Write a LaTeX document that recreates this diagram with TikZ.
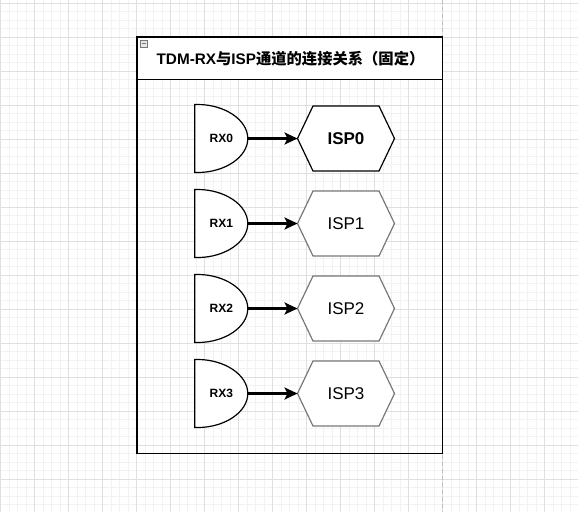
\documentclass[tikz,border=0pt]{standalone}
\usepackage{fontspec}
\setmainfont{Liberation Sans}
\newfontfamily\cjk{Noto Sans CJK SC}
\usetikzlibrary{arrows.meta,backgrounds}

\definecolor{gridminor}{RGB}{242,242,242}
\definecolor{gridmajor}{RGB}{223,223,223}
\definecolor{pageline}{RGB}{190,190,190}
\definecolor{ispgray}{RGB}{120,120,120}
\definecolor{foldfill}{RGB}{226,232,240}

\tikzset{
  rxgate/.style={minimum width=52pt, minimum height=67pt, inner sep=0pt,
    font=\bfseries\fontsize{12}{14}\selectfont},
  ispblock/.style={minimum width=96pt, minimum height=64pt, inner sep=0pt,
    font=\fontsize{17}{20}\selectfont},
  outline/.style={line width=1.2pt, fill=white},
  link/.style={line width=3.2pt, -{Stealth[length=13pt, width=12pt, inset=3pt]}},
}

\begin{document}
\begin{tikzpicture}[x=1pt, y=-1pt, line width=1pt]
  \useasboundingbox (0,0) rectangle (578,512);

  \begin{scope}[on background layer]
    % Grid
    \foreach \x in {0.3,8.8,...,578} \draw[gridminor] (\x,0) -- (\x,512);
    \foreach \y in {2.7,11.2,...,512} \draw[gridminor] (0,\y) -- (578,\y);
    \foreach \x in {0.3,34.3,...,578} \draw[gridmajor] (\x,0) -- (\x,512);
    \foreach \y in {2.7,36.7,...,512} \draw[gridmajor] (0,\y) -- (578,\y);
    \draw[pageline, dash pattern=on 4pt off 3pt] (442.5,0) -- (442.5,512);

    % Container
    \draw[line width=1.3pt, fill=white] (137,37) rectangle (442.5,79.3);
    \draw[line width=1.3pt] (137,79.3) rectangle (442.5,453.3);
    \draw[ispgray, fill=foldfill] (140,40) rectangle (147,47);
    \draw[ispgray] (141.5,43.5) -- (145.5,43.5);
  \end{scope}

  % Title
  \node[font=\bfseries\fontsize{15.3}{18}\selectfont] (title) at (290.5,58.5)
    {TDM-RX{\cjk 与}ISP{\cjk 通道的连接关系（固定）}};

  % Channels
  \foreach \i/\edge in {0/black,1/ispgray,2/ispgray,3/ispgray} {
    \node[rxgate] (rx\i) at (221.3,138.5+85*\i) {RX\i};
    \node[ispblock] (isp\i) at (346,138.5+85*\i) {\ifnum\i=0 \bfseries\fi ISP\i};
    \begin{scope}[on background layer]
      \draw[outline] (rx\i.north west) -- ++(3,0)
        .. controls +(27,0) and +(0,-18.5) .. (rx\i.east)
        .. controls +(0,18.5) and +(27,0) .. ([xshift=3pt]rx\i.south west)
        -- (rx\i.south west) -- cycle;
      \draw[outline, draw=\edge] (isp\i.west) -- ([xshift=15.5pt]isp\i.north west)
        -- ([xshift=-15.5pt]isp\i.north east) -- (isp\i.east)
        -- ([xshift=-15.5pt]isp\i.south east) -- ([xshift=15.5pt]isp\i.south west) -- cycle;
    \end{scope}
    \draw[link] (rx\i) -- (isp\i);
  }

\end{tikzpicture}
\end{document}
